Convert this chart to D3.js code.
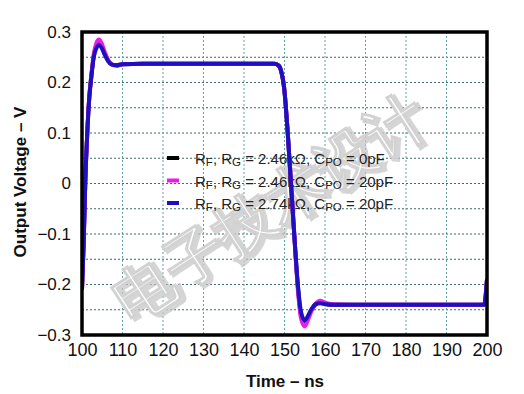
<!DOCTYPE html>
<html>
<head>
<meta charset="utf-8">
<script src="https://cdn.jsdelivr.net/npm/d3@7"></script>
<style>
  body { margin: 0; background: #fff; }
  text { font-family: "Liberation Sans", Arial, sans-serif; }
</style>
</head>
<body>
<div class="canva"></div>
<script>
// values (ns / volts)
const timeNs = [100, 100.4, 100.8, 101.3, 101.8, 102.3, 102.9, 103.5, 104.2, 104.9, 105.6, 106.4, 107.3, 108.5, 110, 115, 120, 130, 140, 147.5, 148.5, 149.2, 149.9, 150.8, 151.6, 152.4, 153.3, 154.1, 155, 155.8, 156.7, 157.7, 158.8, 160, 162, 170, 180, 190, 199.3, 200];

const blackV = [-0.21, -0.12, 0.0, 0.1, 0.17, 0.212, 0.252, 0.271, 0.279, 0.272, 0.258, 0.244, 0.236, 0.234, 0.236, 0.237, 0.237, 0.237, 0.237, 0.237, 0.234, 0.222, 0.19, 0.1, 0.0, -0.1, -0.205, -0.262, -0.277, -0.265, -0.25, -0.239, -0.235, -0.238, -0.24, -0.24, -0.24, -0.24, -0.24, -0.19];
const magentaV = [-0.21, -0.12, 0.0, 0.1, 0.172, 0.215, 0.256, 0.277, 0.285, 0.277, 0.261, 0.245, 0.236, 0.233, 0.236, 0.237, 0.237, 0.237, 0.237, 0.237, 0.234, 0.222, 0.19, 0.1, 0.0, -0.1, -0.21, -0.268, -0.283, -0.27, -0.252, -0.238, -0.232, -0.236, -0.239, -0.24, -0.24, -0.24, -0.24, -0.19];
const blueV = [-0.21, -0.12, 0.0, 0.1, 0.17, 0.21, 0.25, 0.267, 0.274, 0.268, 0.255, 0.243, 0.236, 0.234, 0.236, 0.237, 0.237, 0.237, 0.237, 0.237, 0.234, 0.222, 0.19, 0.1, 0.0, -0.1, -0.2, -0.255, -0.271, -0.262, -0.248, -0.239, -0.237, -0.239, -0.24, -0.24, -0.24, -0.24, -0.24, -0.19];

const seriesNames = ["black", "magenta", "blue"];
const seriesColors = ["#000000", "#e81ee8", "#1e10c0"];
const seriesValues = [blackV, magentaV, blueV];

const xTicks = [100, 110, 120, 130, 140, 150, 160, 170, 180, 190, 200];
const yTicks = [0.3, 0.2, 0.1, 0, -0.1, -0.2, -0.3];
const yGrid = [0.25, 0.2, 0.15, 0.1, 0.05, 0, -0.05, -0.1, -0.15, -0.2, -0.25];

// legend rows: [main, sub, main, sub, main, sub, main]
const legendRows = [
  ["R", "F", ", R", "G", " = 2.46k\u03A9, C", "PO", " = 0pF"],
  ["R", "F", ", R", "G", " = 2.46k\u03A9, C", "PO", " = 20pF"],
  ["R", "F", ", R", "G", " = 2.74k\u03A9, C", "PO", " = 20pF"]
];

const svg = d3.select(".canva").append("svg")
  .attr("width", 524)
  .attr("height", 394);

const plot = {left: 82, top: 32, right: 487, bottom: 335};

const x = d3.scaleLinear().domain([100, 200]).range([plot.left, plot.right]);
const y = d3.scaleLinear().domain([-0.3, 0.3]).range([plot.bottom, plot.top]);

//grid - horizontal every 0.05, vertical every 10ns
svg.append("g")
  .selectAll("line")
  .data(yGrid)
  .enter().append("line")
  .attr("x1", plot.left).attr("x2", plot.right)
  .attr("y1", d => y(d)).attr("y2", d => y(d))
  .attr("stroke", "#3f6a6a")
  .attr("stroke-width", 1)
  .attr("stroke-dasharray", "2,2");

svg.append("g")
  .selectAll("line")
  .data(xTicks.slice(1, -1))
  .enter().append("line")
  .attr("x1", d => x(d)).attr("x2", d => x(d))
  .attr("y1", plot.top).attr("y2", plot.bottom)
  .attr("stroke", "#5fa3a3")
  .attr("stroke-width", 1)
  .attr("stroke-dasharray", "2,2");

//watermark (soft shadow + white body)
const wm = svg.append("g")
  .attr("transform", "translate(270,208) rotate(-33)")
  .style("font-family", "'Noto Sans CJK SC', sans-serif")
  .attr("font-size", 60)
  .attr("font-weight", 700)
  .attr("text-anchor", "middle");

wm.append("text")
  .attr("x", 2).attr("y", 3)
  .attr("dy", "0.35em")
  .attr("fill", "none")
  .attr("stroke", "#c4c4c4")
  .attr("stroke-width", 3)
  .attr("opacity", 0.7)
  .text("电子技术设计");

wm.append("text")
  .attr("dy", "0.35em")
  .attr("fill", "#ffffff")
  .attr("stroke", "#d2d2d2")
  .attr("stroke-width", 1)
  .text("电子技术设计");

//legend
const legend = svg.append("g");
legendRows.forEach((row, i) => {
  const by = 164 + i * 22.5;
  legend.append("line")
    .attr("x1", 167).attr("x2", 179)
    .attr("y1", by - 6).attr("y2", by - 6)
    .attr("stroke", seriesColors[i])
    .attr("stroke-width", 4);
  const t = legend.append("text")
    .attr("x", 195).attr("y", by)
    .attr("font-size", 15)
    .attr("fill", "#222");
  row.forEach((s, j) => {
    const sub = j % 2 === 1;
    t.append("tspan")
      .attr("font-size", sub ? 11.5 : 15)
      .attr("dy", sub ? 2 : (j > 0 ? -2 : 0))
      .text(s);
  });
});

//clip the traces to the plot box
svg.append("clipPath").attr("id", "clip")
  .append("rect")
  .attr("x", plot.left).attr("y", plot.top)
  .attr("width", plot.right - plot.left)
  .attr("height", plot.bottom - plot.top);

const line = d3.line()
  .x((d, i) => x(timeNs[i]))
  .y(d => y(d))
  .curve(d3.curveMonotoneX);

svg.append("g")
  .attr("clip-path", "url(#clip)")
  .selectAll("path")
  .data(seriesValues)
  .enter().append("path")
  .attr("class", (d, i) => "trace " + seriesNames[i])
  .attr("d", line)
  .attr("fill", "none")
  .attr("stroke", (d, i) => seriesColors[i])
  .attr("stroke-width", 4)
  .attr("stroke-linejoin", "round");

//frame
svg.append("rect")
  .attr("x", plot.left).attr("y", plot.top)
  .attr("width", plot.right - plot.left)
  .attr("height", plot.bottom - plot.top)
  .attr("fill", "none")
  .attr("stroke", "#000")
  .attr("stroke-width", 3.5);

//tick labels
const xAxis = d3.axisBottom(x).tickValues(xTicks).tickSize(0).tickPadding(8);
svg.append("g")
  .attr("transform", `translate(0, ${plot.bottom})`)
  .call(xAxis)
  .call(g => g.select(".domain").remove())
  .selectAll("text")
  .attr("font-size", 18)
  .attr("font-family", "'Liberation Sans', Arial, sans-serif")
  .attr("fill", "#111");

const yAxis = d3.axisLeft(y).tickValues(yTicks).tickSize(0).tickPadding(11)
  .tickFormat(d => d === 0 ? "0" : d3.format(".1f")(d));
svg.append("g")
  .attr("transform", `translate(${plot.left}, 0)`)
  .call(yAxis)
  .call(g => g.select(".domain").remove())
  .selectAll("text")
  .attr("font-size", 17)
  .attr("font-family", "'Liberation Sans', Arial, sans-serif")
  .attr("fill", "#111");

//axis titles
svg.append("text")
  .attr("x", 285).attr("y", 387)
  .attr("text-anchor", "middle")
  .attr("font-size", 17)
  .attr("font-weight", "bold")
  .attr("fill", "#111")
  .text("Time \u2013 ns");

svg.append("text")
  .attr("transform", "translate(26, 182) rotate(-90)")
  .attr("text-anchor", "middle")
  .attr("font-size", 17)
  .attr("font-weight", "bold")
  .attr("fill", "#111")
  .text("Output Voltage \u2013 V");
</script>
</body>
</html>
